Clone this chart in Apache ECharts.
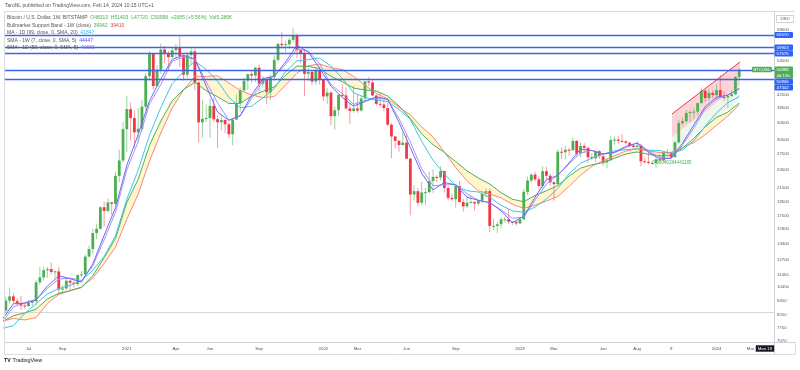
<!DOCTYPE html>
<html>
<head>
<meta charset="utf-8">
<title>BTCUSD 1W</title>
<script src="https://cdn.jsdelivr.net/npm/echarts@6.0.0/dist/echarts.min.js"></script>
<style>
html,body{margin:0;padding:0;background:#ffffff;}
#chart{width:800px;height:370px;}
</style>
</head>
<body>
<div id="chart"></div>
<script>
// x = week number counted from Monday 2020-05-04; first bar = week 1 (2020-05-11), last = week 197 (2024-02-12)
const FIRST_WEEK = 1;
const weekOpen = [
8730,9680,8780,9450,9750,9430,9300,9120,9080,9300,
9400,10800,11200,11800,11900,11650,11700,10250,10330,10930,
10770,10670,11390,11450,13030,13760,15480,15960,18680,18180,
19350,19150,23480,26270,33000,38200,35800,32250,33100,38900,
48600,57500,45200,50900,59000,57400,55800,58700,59800,56200,
49100,56600,58200,46400,34700,35600,35800,39100,35500,34700,
35300,34200,31800,35400,39900,43800,47000,49300,48800,51700,
46000,47300,43200,48200,54700,61500,60900,61300,63300,65500,
58700,57200,49400,50100,46700,50800,47300,41900,43100,36300,
37900,42400,42200,38400,37700,38400,37800,41300,46800,46400,
42200,39700,39500,38500,34100,31300,30300,29400,29900,26600,
20500,21000,19300,20800,20850,22600,23300,23200,24300,21500,
20000,19800,21800,19400,18800,19300,19400,19200,19600,20600,
21000,16300,16300,16500,17100,17100,16800,16800,16600,17100,
20900,22700,23700,22900,21800,24300,23500,22400,22100,28000,
27900,28400,28300,30300,27600,29200,28800,26900,26700,28100,
27100,25900,26300,30500,30600,30300,30200,29900,29300,29000,
29300,26100,26000,25800,25800,26500,26300,27900,27900,26900,
30000,34500,35000,37100,37400,37500,39900,43700,41400,43000,
42300,43900,41700,41600,42000,42600,48313];
const weekHigh = [
9950,9840,9740,10400,10000,9600,9800,9340,9470,9500,
11000,12100,12100,12100,12480,11800,12080,10600,11100,11000,
10950,11450,11720,13230,14100,15960,16480,18800,19480,19900,
19430,24200,28400,34800,41950,40100,37800,38500,40900,49700,
58300,57500,52600,61700,60600,58400,60200,61400,64900,57000,
58000,59600,59500,46600,40900,39500,41300,41400,36400,36600,
35400,34600,35400,42600,44800,48100,49500,50500,51900,52900,
48800,47400,49200,56600,62000,67000,63000,64300,69000,66300,
59300,59000,51900,50500,51900,52100,47500,44500,43500,38900,
42700,45800,44800,39800,45400,42500,42300,46900,48200,47200,
42400,42900,40800,40000,34500,31300,30600,32200,31700,26800,
21900,21500,22500,21500,24200,24600,23600,25200,24400,21800,
20600,21800,22600,19900,20300,20400,19500,19700,20900,21400,
21400,17200,16800,17400,17400,18400,16900,16900,17400,21300,
23300,23900,24200,23400,25200,25100,23900,22600,28500,28900,
29200,28800,31000,30500,30000,29800,28900,27700,28200,28400,
27400,26800,31400,31300,31400,31800,30400,29900,29700,30200,
29700,26800,28100,26100,26900,27500,28000,28600,28000,30300,
35200,35900,37900,37800,38400,40000,44700,44000,44300,43800,
45900,49000,43600,42200,43900,48600,51403];
const weekLow = [
8200,8700,8640,9270,9250,9100,8840,8900,9040,9060,
9150,10600,10950,11150,11400,11120,9880,9900,10200,10140,
10400,10530,11220,11400,12960,13300,14800,15900,16200,18000,
17600,19000,22400,25900,28000,30400,28800,29900,32300,37800,
47000,44000,45000,49300,53300,50400,55500,55500,52000,47000,
48000,53000,43800,30000,31000,34800,31000,34800,28800,32700,
32100,31000,29300,35200,37300,43800,43900,46300,46500,43000,
44700,39600,40800,46900,53900,59500,57800,59300,62300,55600,
53300,42000,46800,45500,45500,45700,40600,39600,34000,32900,
36300,41700,38000,34300,37200,37200,37500,40500,45200,42100,
39200,38600,37600,33700,26700,28700,28000,29300,26600,17600,
19600,18900,19000,18900,20700,20700,22400,22700,20800,19600,
19600,18600,19400,18100,18500,19200,18200,18900,19200,20100,
15600,15800,15500,16000,16700,16500,16400,16300,16500,17100,
20400,22300,22600,21400,21400,22800,21900,19600,21900,26600,
26500,27200,28200,27100,26900,27700,25800,26300,25900,26600,
25300,24800,26300,29500,29700,29900,29500,28900,28600,28800,
25200,25800,25500,25400,24900,26100,26000,27200,26600,26900,
29700,33900,34500,34800,35600,36700,39900,40200,40500,41300,
40800,41500,40500,38500,41900,42300,47720];
const weekClose = [
9680,8780,9450,9750,9430,9300,9120,9080,9300,9400,
10800,11200,11800,11900,11650,11700,10250,10330,10930,10770,
10670,11390,11450,13030,13760,15480,15960,18680,18180,19350,
19150,23480,26270,33000,38200,35800,32250,33100,38900,48600,
57500,45200,50900,59000,57400,55800,58700,59800,56200,49100,
56600,58200,46400,34700,35600,35800,39100,35500,34700,35300,
34200,31800,35400,39900,43800,47000,49300,48800,51700,46000,
47300,43200,48200,54700,61500,60900,61300,63300,65500,58700,
57200,49400,50100,46700,50800,47300,41900,43100,36300,37900,
42400,42200,38400,37700,38400,37800,41300,46800,46400,42200,
39700,39500,38500,34100,31300,30300,29400,29900,26600,20500,
21000,19300,20800,20850,22600,23300,23200,24300,21500,20000,
19800,21800,19400,18800,19300,19400,19200,19600,20600,21000,
16300,16300,16500,17100,17100,16800,16800,16600,17100,20900,
22700,23700,22900,21800,24300,23500,22400,22100,28000,27900,
28400,28300,30300,27600,29200,28800,26900,26700,28100,27100,
25900,26300,30500,30600,30300,30200,29900,29300,29000,29300,
26100,26000,25800,25800,26500,26300,27900,27900,26900,30000,
34500,35000,37100,37400,37500,39900,43700,41400,43000,42300,
43900,41700,41600,42000,42600,48300,50998];

// Indicator lines, read every 3rd week
const maWeeks = [2,5,8,11,14,17,20,23,26,29,32,35,38,41,44,47,50,53,56,59,62,65,68,71,74,77,80,83,86,89,92,95,98,101,104,107,110,113,116,119,122,125,128,131,134,137,140,143,146,149,152,155,158,161,164,167,170,173,176,179,182,185,188,191,194,197];
const sma7w = [8230,9240,9270,9490,10510,11330,11080,10830,12360,15210,18610,25370,31730,40620,47600,54930,56570,55000,45200,37400,35200,36440,42290,47700,48560,53870,60840,57930,51460,45170,41590,39040,40370,41800,41030,34690,28870,23930,21190,22360,21990,20090,19640,19340,18200,16700,17490,20100,22830,23570,25800,28530,28260,27530,27890,29100,29800,27910,26540,26730,29790,34060,38860,41670,42270,44440];
const sma50d = [8050,9030,9320,9530,10330,11060,11150,10940,12180,14730,18000,24530,30170,39670,45680,54140,55860,55100,46580,40000,35250,36330,41280,46730,48650,52890,59260,58300,53210,45700,42740,39550,40630,41290,41060,35630,30080,24730,21860,21980,22060,20610,19660,19280,18330,17240,17360,19690,22110,23590,25610,27730,28280,27540,27760,28850,29890,28200,26850,26640,29380,33290,38310,41140,42450,44180];
const ma99d = [7720,7870,8610,9240,9930,10320,10570,10930,11790,13040,15160,19800,24470,31600,38680,46030,50180,54240,51010,46870,41660,38600,39010,41480,44380,50260,54310,54810,55400,52320,47820,43040,41590,40760,40390,38100,35460,30220,26310,23820,21820,21060,20870,20070,18940,18200,17990,18700,19840,21400,23860,25740,26740,27520,28190,28440,28580,28310,28260,27640,28360,30330,33710,37180,40070,41850];
const ema21w = [8110,8470,8640,8880,9570,9970,10150,10400,11340,12920,14870,19350,22890,29360,35020,40570,44080,46400,43660,41830,39800,39840,41970,43520,44900,48960,52290,52220,51240,48510,46630,44520,43950,43600,42010,39090,35680,31870,29490,27860,26050,24340,23110,22130,20770,19800,19440,20350,21070,21880,23450,24830,25470,25840,26690,27540,27950,27450,27140,27240,28750,30890,33580,35950,37400,39930];
const sma20w = [8130,8300,8210,8350,9250,9880,10170,10440,11130,12400,13980,17090,20540,26170,32130,38470,43920,48530,48490,48740,46240,43830,42370,41530,41870,45530,49630,52390,53100,51670,50970,48480,45500,42840,41140,38690,36670,33580,31220,27940,24950,22630,21060,20550,20000,19080,18520,18940,19540,20200,21750,23570,25180,26200,27150,28160,28640,28180,27830,27880,28890,29920,31700,33940,36330,39390];

// Horizontal levels, last price, tick labels
const levelValues = [65570, 59903, 57575, 50906, 47342];
const greyLevelValues = [8670];
const lastPrice = 50998;
const lastPriceTimer = '4d 15h';
const priceTickValues = [68000,54500,42500,38500,34500,30500,27500,24500,21500,19500,17500,15900,14300,12700,11450,10450,9450,8550,7750,7070];
const timeTickWeeks = [9,18,35,48,57,70,87,96,109,122,139,148,161,170,179,191,200];
const timeTickLabels = ['Jul','Sep','2021','Apr','Jun','Sep','2022','Mar','Jun','Sep','2023','Mar','Jun','Aug','9','2024','Mar'];
const cursorWeek = 203.8;
const cursorLabel = 'Mon 19';

// Drawing (channel)
const channelWeeks = [179.2, 197.2];
const channelTop = [36870, 53870];
const channelMid = [31150, 45560];
const channelBottom = [27900, 40970];
const channelLabel = '0.00046284441185';

const X_MIN = 2.51, X_MAX = 206.2, Y_MIN = 6990, Y_MAX = 77570;
const FONT = "'Liberation Sans', Arial, sans-serif";

const chart = echarts.init(document.getElementById('chart'), null, {renderer: 'canvas', width: 800, height: 370});

const candleData = weekClose.map((c, i) => [FIRST_WEEK + i, weekOpen[i], weekHigh[i], weekLow[i], c]);
const pairs = (ws, vs) => ws.map((w, i) => [w, vs[i]]);

function fillBetween(upper, lower, ws, fill) {
  return {
    type: 'custom', coordinateSystem: 'cartesian2d', silent: true, clip: true, z: 1,
    data: [[ws[0], upper[0]]],
    renderItem: function (params, api) {
      const pts = [];
      for (let i = 0; i < ws.length; i++) pts.push(api.coord([ws[i], upper[i]]));
      for (let i = ws.length - 1; i >= 0; i--) pts.push(api.coord([ws[i], lower[i]]));
      return {type: 'polygon', shape: {points: pts}, style: {fill: fill}};
    }
  };
}
function maLine(vals, color, z) {
  return {type: 'line', data: pairs(maWeeks, vals), symbol: 'none', showSymbol: false, silent: true, z: z,
    lineStyle: {width: 1, color: color}, emphasis: {disabled: true}};
}

const option = {
  animation: false,
  backgroundColor: '#ffffff',
  grid: {left: 4, right: 26, top: 12, bottom: 28, containLabel: false},
  xAxis: {type: 'value', min: X_MIN, max: X_MAX, axisLine: {show: false}, axisTick: {show: false}, axisLabel: {show: false}, splitLine: {show: false}},
  yAxis: {type: 'log', logBase: 10, min: Y_MIN, max: Y_MAX, position: 'right', axisLine: {show: false}, axisTick: {show: false}, axisLabel: {show: false}, splitLine: {show: false}},
  series: [
    fillBetween(ema21w, sma20w, maWeeks, 'rgba(255,226,120,0.36)'),
    fillBetween(channelTop, channelMid, channelWeeks, 'rgba(242,54,69,0.22)'),
    fillBetween(channelMid, channelBottom, channelWeeks, 'rgba(76,175,80,0.10)'),
    {
      type: 'line', data: [], symbol: 'none', silent: true, z: 2,
      markLine: {
        silent: true, symbol: ['none', 'none'], animation: false, z: 2,
        label: {show: false}, emphasis: {disabled: true},
        lineStyle: {type: 'solid', width: 1, color: '#d6d8dd'},
        data: greyLevelValues.map(v => ({yAxis: v}))
      }
    },
    {
      type: 'custom', coordinateSystem: 'cartesian2d', clip: true, silent: true, z: 3,
      data: candleData, encode: {x: 0, y: [1, 2, 3, 4]},
      renderItem: function (params, api) {
        const w = api.value(0), o = api.value(1), h = api.value(2), l = api.value(3), c = api.value(4);
        const pO = api.coord([w, o]), pC = api.coord([w, c]), pH = api.coord([w, h]), pL = api.coord([w, l]);
        const up = c >= o;
        const bw = 2.8;
        const top = Math.min(pO[1], pC[1]), bot = Math.max(pO[1], pC[1]);
        return {type: 'group', children: [
          {type: 'line', shape: {x1: pH[0], y1: pH[1], x2: pL[0], y2: pL[1]}, style: {stroke: up ? 'rgba(76,175,80,0.55)' : 'rgba(242,54,69,0.5)', lineWidth: 1}},
          {type: 'rect', shape: {x: pO[0] - bw / 2, y: top, width: bw, height: Math.max(bot - top, 1)}, style: {fill: up ? '#4caf50' : '#f23645'}}
        ]};
      }
    },
    maLine(sma20w, '#f4897c', 4),
    maLine(ema21w, '#4fae5a', 4),
    maLine(ma99d, '#3ec5e0', 4),
    maLine(sma50d, '#a393f2', 4),
    maLine(sma7w, '#7267f3', 4),
    {
      type: 'line', data: pairs(channelWeeks, channelTop), symbol: 'none', silent: true, z: 5,
      lineStyle: {width: 1, color: '#f23645'},
      markLine: {
        silent: true, symbol: ['none', 'none'], animation: false, z: 6,
        label: {show: false}, emphasis: {disabled: true},
        lineStyle: {type: 'solid', width: 1.3, color: '#3b65f0'},
        data: levelValues.map(v => ({yAxis: v}))
      }
    }
  ]
};
chart.setOption(option);

const px = v => chart.convertToPixel({yAxisIndex: 0}, v);
const pxX = w => chart.convertToPixel({xAxisIndex: 0}, w);

function text(x, y, str, st, z) {
  const style = Object.assign({text: str, fill: '#555', fontSize: 5, fontFamily: FONT,
    align: 'left', verticalAlign: 'middle', textAlign: 'left', textVerticalAlign: 'middle'}, st || {});
  return {type: 'text', x: x, y: y, silent: true, z: z || 110, style: style};
}
function hline(x1, x2, y, color) {
  return {type: 'line', silent: true, z: 99, shape: {x1: x1, y1: y, x2: x2, y2: y}, style: {stroke: color || '#d9dce3', lineWidth: 1}};
}
function vline(x, y1, y2, color) {
  return {type: 'line', silent: true, z: 99, shape: {x1: x, y1: y1, x2: x, y2: y2}, style: {stroke: color || '#d9dce3', lineWidth: 1}};
}
function rich(parts, size) {
  const r = {};
  let s = '';
  parts.forEach((p, i) => { r['p' + i] = {fill: p[1], fontSize: size, fontFamily: FONT}; s += '{p' + i + '|' + p[0] + '}'; });
  return {text: s, rich: r};
}

const g = [];
// frame
g.push(hline(4, 795, 11.5));
g.push(hline(4, 795, 354.5));
g.push(hline(4, 795, 342.5, '#cfd2d9'));
g.push(vline(4.5, 11.5, 354.5));
g.push(vline(774.5, 11.5, 354.5, '#cfd2d9'));
g.push(vline(795.5, 342.5, 354.5));

// header + legend
g.push(text(5, 6, 'TaroNL published on TradingView.com, Feb 14, 2024 10:15 UTC+1', {fill: '#555', fontSize: 5}));
const legendRows = [
  [['Bitcoin / U.S. Dollar, 1W, BITSTAMP  ', '#555'], ['O48313  H51403  L47720  C50998  +2685 (+5.56%)  Vol5.286K', '#4caf50']],
  [['Bullmarket Support Band - 1W (close)  ', '#555'], ['39942', '#4caf50'], ['  ', '#555'], ['39410', '#f23645']],
  [['MA - 1D (99, close, 0, SMA, 20)  ', '#555'], ['41847', '#2fb8e0']],
  [['SMA - 1W (7, close, 0, SMA, 5)  ', '#555'], ['44447', '#5a55f2']],
  [['SMA - 1D (50, close, 0, SMA, 5)  ', '#555'], ['40683', '#8a6df0']]
];
const legendY = [18, 25.5, 33, 40.5, 48];
legendRows.forEach((row, i) => {
  const r = rich(row, 5);
  g.push(text(7, legendY[i], r.text, {rich: r.rich, fontSize: 5}));
});

// right price scale labels
g.push({type: 'rect', silent: true, z: 100, shape: {x: 776.5, y: 15.5, width: 17, height: 7}, style: {fill: '#fff', stroke: '#cfd2d9', lineWidth: 1}});
g.push(text(785, 19, 'USD', {fontSize: 4.3, align: 'center', textAlign: 'center', fill: '#555'}));
priceTickValues.forEach(v => g.push(text(777, px(v), String(v), {fontSize: 4.3, fill: '#555'})));

// level / price boxes on the scale
const BOX_H = 6;
const boxes = levelValues.map(v => ({value: v, lines: [String(v)], fill: '#2962ff'}));
boxes.push({value: lastPrice, lines: [String(lastPrice), lastPriceTimer], fill: '#4caf50'});
boxes.forEach(b => { b.y = px(b.value); b.h = BOX_H * b.lines.length; });
boxes.sort((a, b) => a.y - b.y);
let prevBottom = -1e9;
boxes.forEach(b => {
  let top = b.y - BOX_H / 2;
  if (top < prevBottom) top = prevBottom;
  prevBottom = top + b.h;
  g.push({type: 'rect', silent: true, z: 120, shape: {x: 774.5, y: top, width: 18.5, height: b.h, r: 1}, style: {fill: b.fill}});
  b.lines.forEach((ln, k) => g.push(text(776.5, top + BOX_H / 2 + k * BOX_H, ln, {fontSize: 4.4, fill: '#ffffff'}, 130)));
});
// BTCUSD tag inside the plot
g.push({type: 'rect', silent: true, z: 120, shape: {x: 752, y: px(lastPrice) - 2.8, width: 20, height: 5.6, r: 1}, style: {fill: '#4caf50'}});
g.push(text(762, px(lastPrice), 'BTCUSD', {fontSize: 4.2, fill: '#ffffff', align: 'center', textAlign: 'center'}, 130));

// time scale labels
timeTickWeeks.forEach((w, i) => g.push(text(pxX(w), 348.5, timeTickLabels[i], {fontSize: 4.3, fill: '#4f4f4f', align: 'center', textAlign: 'center'})));
g.push(text(pxX(cursorWeek), 348.5, cursorLabel, {fontSize: 4.3, fill: '#ffffff', align: 'center', textAlign: 'center', backgroundColor: '#131722', padding: [1.2, 2]}, 130));

// drawing label
g.push(text(pxX(channelWeeks[0]), px(channelBottom[0]) + 11, channelLabel, {fontSize: 4.6, fill: '#4caf50', align: 'center', textAlign: 'center'}));

// logo
g.push(text(4, 361, 'TV', {fontSize: 5.2, fontWeight: 'bold', fill: '#131722'}));
g.push(text(12.5, 361, 'TradingView', {fontSize: 5.4, fill: '#131722'}));

chart.setOption({graphic: {elements: g}});
</script>
</body>
</html>
